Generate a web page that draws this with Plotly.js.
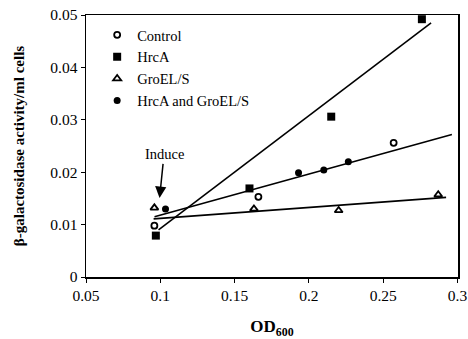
<!DOCTYPE html>
<html>
<head>
<meta charset="utf-8">
<script src="https://cdn.plot.ly/plotly-3.0.1.min.js"></script>
<style>html,body{margin:0;padding:0;background:#fff;}#chart{width:468px;height:339px;}</style>
</head>
<body>
<div id="chart"></div>
<script>
// Data
const controlX = [0.096, 0.166, 0.257];
const controlY = [0.0098, 0.0153, 0.0256];
const hrcaX = [0.097, 0.160, 0.215, 0.276];
const hrcaY = [0.0079, 0.0169, 0.0306, 0.0492];
const groX = [0.096, 0.163, 0.220, 0.287];
const groY = [0.0132, 0.0130, 0.0127, 0.0157];
const bothX = [0.1035, 0.193, 0.210, 0.2265];
const bothY = [0.0130, 0.0199, 0.0204, 0.0220];
// Fitted lines as drawn in the picture (end points)
const fitSteepX = [0.0988, 0.2822];
const fitSteepY = [0.0090, 0.0485];
const fitMidX = [0.0961, 0.2962];
const fitMidY = [0.0115, 0.0272];
const fitFlatX = [0.0955, 0.2923];
const fitFlatY = [0.0111, 0.0152];
const xTicks = [0.05, 0.1, 0.15, 0.2, 0.25, 0.3];
const xTickText = ['0.05', '0.1', '0.15', '0.2', '0.25', '0.3'];
const yTicks = [0, 0.01, 0.02, 0.03, 0.04, 0.05];
const yTickText = ['0', '0.01', '0.02', '0.03', '0.04', '0.05'];
const seriesNames = ['Control', 'HrcA', 'GroEL/S', 'HrcA and GroEL/S'];

const font = 'Liberation Serif, Times New Roman, serif';
const lineStyle = {color: '#000', width: 1.6};
const traces = [
  {x: fitSteepX, y: fitSteepY, mode: 'lines', line: lineStyle, showlegend: false, hoverinfo: 'skip'},
  {x: fitMidX, y: fitMidY, mode: 'lines', line: lineStyle, showlegend: false, hoverinfo: 'skip'},
  {x: fitFlatX, y: fitFlatY, mode: 'lines', line: lineStyle, showlegend: false, hoverinfo: 'skip'},
  {x: controlX, y: controlY, name: seriesNames[0], mode: 'markers',
   marker: {symbol: 'circle-open', size: 6, color: '#000', line: {width: 1.8, color: '#000'}}},
  {x: hrcaX, y: hrcaY, name: seriesNames[1], mode: 'markers',
   marker: {symbol: 'square', size: 8, color: '#000'}},
  {x: groX, y: groY, name: seriesNames[2], mode: 'markers',
   marker: {symbol: 'triangle-up-open', size: 7, color: '#000', line: {width: 1.8, color: '#000'}}},
  {x: bothX, y: bothY, name: seriesNames[3], mode: 'markers',
   marker: {symbol: 'circle', size: 7, color: '#000'}}
];

const layout = {
  width: 468, height: 339,
  margin: {l: 86, r: 10, t: 15, b: 62},
  paper_bgcolor: '#fff', plot_bgcolor: '#fff',
  font: {family: font, size: 14, color: '#000'},
  showlegend: true,
  legend: {x: 0.03, y: 0.985, xanchor: 'left', yanchor: 'top', bgcolor: 'rgba(0,0,0,0)',
           font: {family: font, size: 14.5, color: '#000'}, tracegroupgap: 0},
  xaxis: {
    range: [0.05, 0.3003], tickvals: xTicks, ticktext: xTickText,
    showgrid: false, zeroline: false, showline: true, linecolor: '#000', linewidth: 1.5,
    mirror: true, ticks: 'outside', ticklen: 4, tickcolor: '#000',
    ticklabeloverflow: 'allow',
    tickfont: {family: font, size: 15.5},
    title: {text: '<b>OD<sub>600</sub></b>', font: {family: font, size: 17}, standoff: 18}
  },
  yaxis: {
    range: [0, 0.05], tickvals: yTicks, ticktext: yTickText,
    showgrid: false, zeroline: false, showline: true, linecolor: '#000', linewidth: 1.5,
    mirror: true, ticks: 'outside', ticklen: 4, tickcolor: '#000',
    ticklabeloverflow: 'allow',
    tickfont: {family: font, size: 15.5},
    title: {text: '<b>β-galactosidase activity/ml cells</b>', font: {family: font, size: 15}, standoff: 22}
  },
  annotations: [{
    x: 0.0995, y: 0.0151, xref: 'x', yref: 'y',
    ax: 0.1025, ay: 0.0234, axref: 'x', ayref: 'y',
    text: 'Induce', showarrow: true, arrowhead: 2, arrowsize: 1.5, arrowwidth: 1.5,
    arrowcolor: '#000', font: {family: font, size: 14.5, color: '#000'}
  }]
};
Plotly.newPlot('chart', traces, layout, {staticPlot: true, displayModeBar: false});
</script>
</body>
</html>
